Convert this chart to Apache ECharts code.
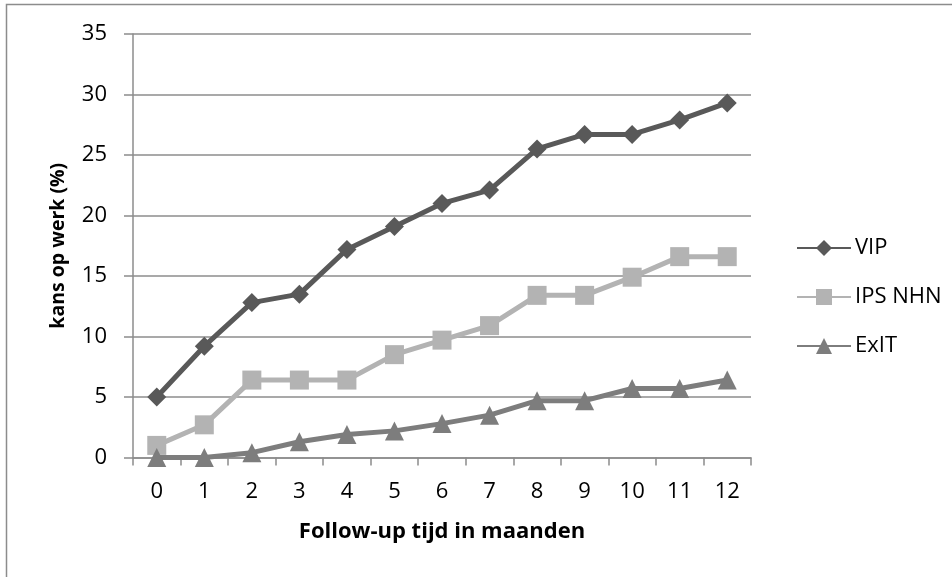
<!DOCTYPE html>
<html>
<head>
<meta charset="utf-8">
<script src="https://cdn.jsdelivr.net/npm/echarts@6/dist/echarts.min.js"></script>
<style>
html,body{margin:0;padding:0;background:#fff;}
#chart{width:952px;height:577px;}
</style>
</head>
<body>
<div id="chart"></div>
<script>
var categories = ['0','1','2','3','4','5','6','7','8','9','10','11','12'];
var vipValues  = [5.0, 9.2, 12.8, 13.5, 17.2, 19.1, 21.0, 22.1, 25.5, 26.7, 26.7, 27.9, 29.3];
var ipsValues  = [1.0, 2.7, 6.4, 6.4, 6.4, 8.5, 9.7, 10.9, 13.4, 13.4, 14.9, 16.6, 16.6];
var exitValues = [0, 0, 0.4, 1.3, 1.9, 2.2, 2.8, 3.5, 4.7, 4.7, 5.7, 5.7, 6.4];
var seriesNames = ['VIP', 'IPS NHN', 'ExIT'];
var xTitle = 'Follow-up tijd in maanden';
var yTitle = 'kans op werk (%)';

var FONT = 'Open Sans';
var chart = echarts.init(document.getElementById('chart'), null, {renderer: 'canvas'});

function mkSeries(name, data, symbol, color) {
  return {
    name: name,
    type: 'line',
    data: data,
    symbol: symbol,
    symbolSize: 19,
    showAllSymbol: true,
    lineStyle: {color: color, width: 5},
    itemStyle: {color: color},
    emphasis: {disabled: true},
    animation: false
  };
}

chart.setOption({
  animation: false,
  backgroundColor: '#ffffff',
  graphic: [{
    type: 'rect',
    shape: {x: 6.5, y: 4.5, width: 2000, height: 2000},
    style: {fill: 'none', stroke: '#8c8c8c', lineWidth: 1.5},
    silent: true
  }],
  grid: {left: 133, right: 201, top: 34, bottom: 119.5, containLabel: false},
  legend: {
    orient: 'vertical',
    left: 791,
    top: 232,
    itemWidth: 54,
    itemHeight: 20,
    itemGap: 27,
    textStyle: {fontFamily: FONT, fontSize: 22, color: '#000', padding: [0,0,0,-1]},
    data: seriesNames
  },
  xAxis: {
    type: 'category',
    data: categories,
    boundaryGap: true,
    name: xTitle,
    nameLocation: 'middle',
    nameGap: 74.5,
    nameTextStyle: {fontFamily: FONT, fontSize: 22, fontWeight: 'bold', color: '#000', align: 'center', verticalAlign: 'middle'},
    axisLine: {lineStyle: {color: '#8c8c8c', width: 1.5}},
    axisTick: {show: true, inside: false, length: 8, lineStyle: {color: '#8c8c8c', width: 1.5}},
    axisLabel: {fontFamily: FONT, fontSize: 22, color: '#000', margin: 23, interval: 0},
    splitLine: {show: false}
  },
  yAxis: {
    type: 'value',
    min: 0,
    max: 35,
    interval: 5,
    name: yTitle,
    nameLocation: 'middle',
    nameGap: 75,
    nameRotate: 90,
    nameTextStyle: {fontFamily: FONT, fontSize: 19.5, fontWeight: 'bold', color: '#000', align: 'center', verticalAlign: 'middle'},
    axisLine: {show: true, lineStyle: {color: '#8c8c8c', width: 1.5}},
    axisTick: {show: true, inside: false, length: 9, lineStyle: {color: '#8c8c8c', width: 1.5}},
    axisLabel: {fontFamily: FONT, fontSize: 22, color: '#000', margin: 26},
    splitLine: {show: true, lineStyle: {color: '#8c8c8c', width: 1.5}}
  },
  series: [
    mkSeries(seriesNames[0], vipValues, 'diamond', '#595959'),
    mkSeries(seriesNames[1], ipsValues, 'rect', '#b3b3b3'),
    mkSeries(seriesNames[2], exitValues, 'triangle', '#7d7d7d')
  ]
});
</script>
</body>
</html>
